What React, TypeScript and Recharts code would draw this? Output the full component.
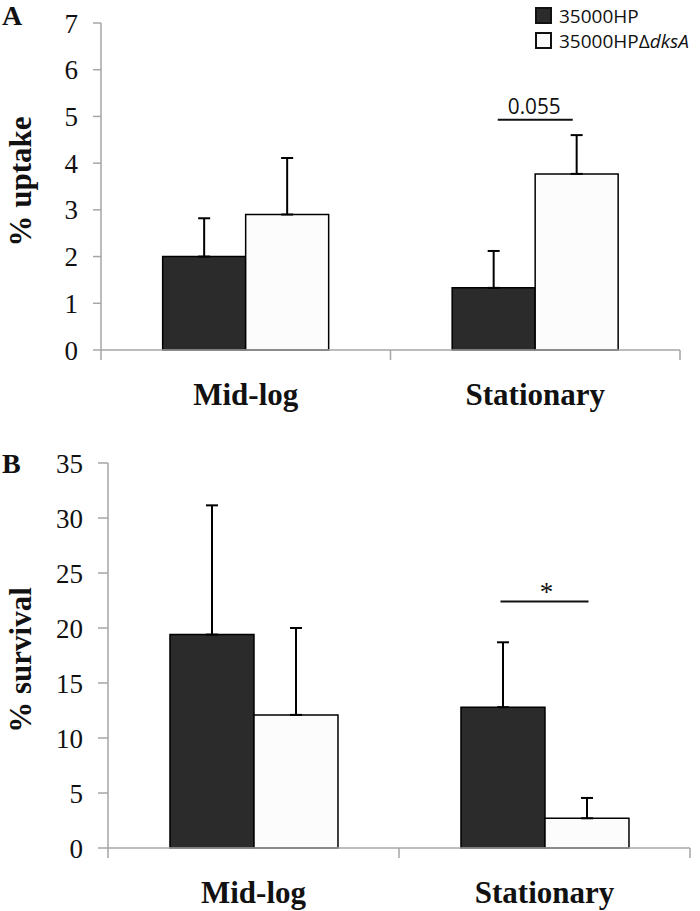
import { Bar, BarChart, ErrorBar, Legend, ReferenceDot, XAxis, YAxis } from 'recharts';

// growth phases and strains
const PHASES = ['Mid-log', 'Stationary'];
const STRAINS = ['35000HP', '35000HPΔdksA'];

// A: % uptake (mean, upper SD)
const UPTAKE_WT = [2.0, 1.33];
const UPTAKE_WT_ERR = [0.82, 0.79];
const UPTAKE_DKSA = [2.9, 3.77];
const UPTAKE_DKSA_ERR = [1.21, 0.83];
const UPTAKE_TICKS = [0, 1, 2, 3, 4, 5, 6, 7];

// B: % survival (mean, upper SD)
const SURV_WT = [19.4, 12.8];
const SURV_WT_ERR = [11.75, 5.9];
const SURV_DKSA = [12.1, 2.7];
const SURV_DKSA_ERR = [7.9, 1.85];
const SURV_TICKS = [0, 5, 10, 15, 20, 25, 30, 35];

// significance marks
const SIG_A = { phase: 'Stationary', y: 4.93, label: '0.055' };
const SIG_B = { phase: 'Stationary', y: 22.4, label: '*' };

const AXIS = '#a6a6a6';
const INK = '#111';
const COL_WT = '#2b2b2b';
const COL_DKSA = '#fcfcfc';
const FILLS = [COL_WT, COL_DKSA];
const SERIF = '"Liberation Serif", "Times New Roman", serif';
const SANS = '"Open Sans", "Noto Sans", sans-serif';

function rows(wt: number[], wtErr: number[], dk: number[], dkErr: number[]) {
  return PHASES.map((phase, i) => ({
    phase,
    wt: wt[i],
    wtErr: [0, wtErr[i]],
    dksA: dk[i],
    dksAErr: [0, dkErr[i]],
  }));
}

function PhaseTick(props: any) {
  const { x, y, payload } = props;
  const half = payload.offset ?? 0;
  const last = payload.value === PHASES[PHASES.length - 1];
  return (
    <g>
      <line x1={x - half} x2={x - half} y1={y} y2={y + 10} stroke={AXIS} strokeWidth={1.5} />
      {last && <line x1={x + half} x2={x + half} y1={y} y2={y + 10} stroke={AXIS} strokeWidth={1.5} />}
      <text x={x} y={y + 55} textAnchor="middle" fontFamily={SERIF} fontWeight="bold" fontSize={31} fill={INK}>
        {payload.value}
      </text>
    </g>
  );
}

function StrainLegend() {
  return (
    <div style={{ fontFamily: SANS, fontSize: 19, color: INK }}>
      {STRAINS.map((s, i) => {
        const [base, ital] = s.split('Δ');
        return (
          <div key={s} style={{ display: 'flex', alignItems: 'center', height: 25, whiteSpace: 'nowrap' }}>
            <span
              style={{
                display: 'inline-block',
                width: 13,
                height: 13,
                border: `2px solid ${INK}`,
                background: FILLS[i],
                marginRight: 7,
              }}
            />
            <span>
              {base}
              {ital !== undefined && (
                <>
                  Δ<i>{ital}</i>
                </>
              )}
            </span>
          </div>
        );
      })}
    </div>
  );
}

interface PanelProps {
  letter: string;
  letterY: number;
  title: string;
  titleShift: number;
  data: ReturnType<typeof rows>;
  ticks: number[];
  top: number;
  height: number;
  right: number;
  yWidth: number;
  xHeight: number;
  tickSize: number;
  sig: { phase: string; y: number; label: string };
  sigHalf: number;
  legend?: boolean;
}

function Panel(p: PanelProps) {
  const max = p.ticks[p.ticks.length - 1];
  const sigShape = (s: any) => {
    const { cx, cy } = s;
    return (
      <g>
        <line x1={cx - p.sigHalf} x2={cx + p.sigHalf} y1={cy} y2={cy} stroke={INK} strokeWidth={2} />
        {p.sig.label === '*' ? (
          <text x={cx + 2} y={cy - 1} textAnchor="middle" fontFamily={SERIF} fontSize={27} fill={INK}>
            *
          </text>
        ) : (
          <text
            x={cx - 1}
            y={cy - 6}
            textAnchor="middle"
            fontFamily={SANS}
            fontSize={22}
            fill={INK}
            textLength={53}
            lengthAdjust="spacingAndGlyphs"
          >
            {p.sig.label}
          </text>
        )}
      </g>
    );
  };
  return (
    <div style={{ position: 'absolute', left: 0, top: p.top }}>
      <BarChart
        width={700}
        height={p.height}
        data={p.data}
        margin={{ top: 23, right: p.right, bottom: 0, left: 45 }}
        barCategoryGap="21.3%"
        barGap={0}
      >
        <XAxis
          dataKey="phase"
          height={p.xHeight}
          tickSize={0}
          tickMargin={0}
          tickLine={false}
          axisLine={{ stroke: AXIS, strokeWidth: 1.5 }}
          tick={<PhaseTick />}
          interval={0}
        />
        <YAxis
          width={p.yWidth}
          domain={[0, max]}
          ticks={p.ticks}
          interval={0}
          tickSize={p.tickSize}
          tickMargin={15}
          axisLine={{ stroke: AXIS, strokeWidth: 1.5 }}
          tickLine={{ stroke: AXIS, strokeWidth: 1.5 }}
          tick={{ fontFamily: SERIF, fontSize: 27, fill: INK }}
          label={(l: any) => {
            const vb = l.viewBox;
            const cy = vb.y + vb.height / 2 + p.titleShift;
            return (
              <g>
                <text x={2} y={p.letterY} fontFamily={SERIF} fontWeight="bold" fontSize={28} fill={INK}>
                  {p.letter}
                </text>
                <text
                  x={20}
                  y={cy}
                  transform={`rotate(-90, 20, ${cy})`}
                  textAnchor="middle"
                  dominantBaseline="central"
                  fontFamily={SERIF}
                  fontWeight="bold"
                  fontSize={31}
                  fill={INK}
                >
                  {p.title}
                </text>
              </g>
            );
          }}
        />
        {p.legend && (
          <Legend
            layout="vertical"
            align="center"
            verticalAlign="middle"
            wrapperStyle={{ top: 3, left: 535, width: 170 }}
            content={<StrainLegend />}
          />
        )}
        <Bar dataKey="wt" name={STRAINS[0]} fill={COL_WT} stroke="#000" strokeWidth={1.5} isAnimationActive={false}>
          <ErrorBar dataKey="wtErr" width={6} stroke="#000" strokeWidth={2} isAnimationActive={false} />
        </Bar>
        <Bar dataKey="dksA" name={STRAINS[1]} fill={COL_DKSA} stroke="#000" strokeWidth={1.5} isAnimationActive={false}>
          <ErrorBar dataKey="dksAErr" width={6} stroke="#000" strokeWidth={2} isAnimationActive={false} />
        </Bar>
        <ReferenceDot x={p.sig.phase} y={p.sig.y} r={0} shape={sigShape} />
      </BarChart>
    </div>
  );
}

export default function App() {
  return (
    <div style={{ position: 'absolute', left: 0, top: 0, width: 700, height: 911, background: '#fff' }}>
      <Panel
        letter="A"
        letterY={25}
        title="% uptake"
        titleShift={-5}
        data={rows(UPTAKE_WT, UPTAKE_WT_ERR, UPTAKE_DKSA, UPTAKE_DKSA_ERR)}
        ticks={UPTAKE_TICKS}
        top={0}
        height={420}
        right={20}
        yWidth={56}
        xHeight={70}
        tickSize={8}
        sig={SIG_A}
        sigHalf={37.5}
        legend
      />
      <Panel
        letter="B"
        letterY={33}
        title="% survival"
        titleShift={4.5}
        data={rows(SURV_WT, SURV_WT_ERR, SURV_DKSA, SURV_DKSA_ERR)}
        ticks={SURV_TICKS}
        top={440}
        height={471}
        right={10}
        yWidth={63}
        xHeight={63}
        tickSize={10}
        sig={SIG_B}
        sigHalf={44}
      />
    </div>
  );
}
